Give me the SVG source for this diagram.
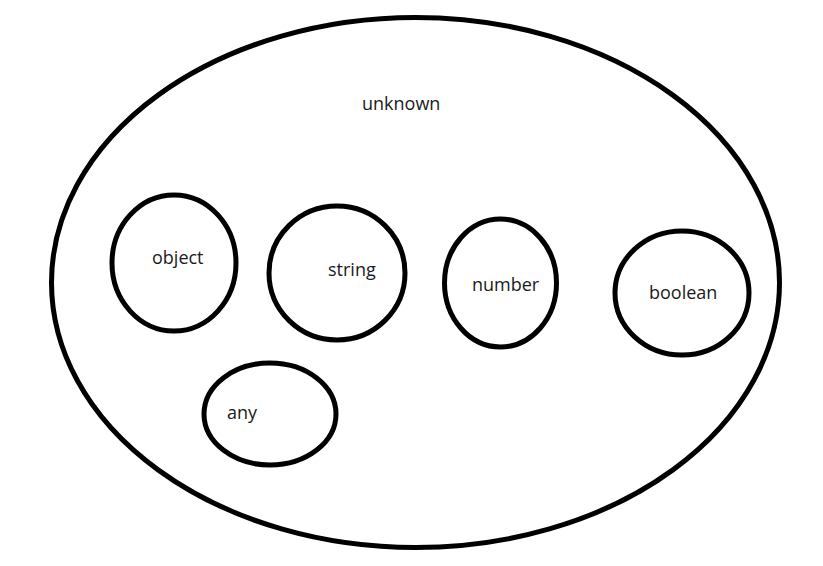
<svg xmlns="http://www.w3.org/2000/svg" width="823" height="566" viewBox="0 0 823 566">
<style>
.e{fill:none;stroke:#000;stroke-width:5}
.t{font-family:"Open Sans","Noto Sans",sans-serif;font-size:18px;fill:#1a1a1a}
</style>
<rect width="823" height="566" fill="#fff"/>
<g id="unknown"><ellipse class="e" cx="415.5" cy="282.5" rx="364" ry="265"/><text class="t" x="362" y="110">unknown</text></g>
<g id="object"><ellipse class="e" cx="174" cy="263" rx="62" ry="68"/><text class="t" x="152" y="264">object</text></g>
<g id="string"><ellipse class="e" cx="337" cy="273" rx="68" ry="67"/><text class="t" x="328" y="276">string</text></g>
<g id="number"><ellipse class="e" cx="500.5" cy="283" rx="56" ry="64"/><text class="t" x="472" y="291">number</text></g>
<g id="boolean"><ellipse class="e" cx="682" cy="293" rx="67" ry="62"/><text class="t" x="649" y="299">boolean</text></g>
<g id="any"><ellipse class="e" cx="270" cy="414" rx="66" ry="51"/><text class="t" x="227" y="419">any</text></g>
<g id="connectors"/>
</svg>
